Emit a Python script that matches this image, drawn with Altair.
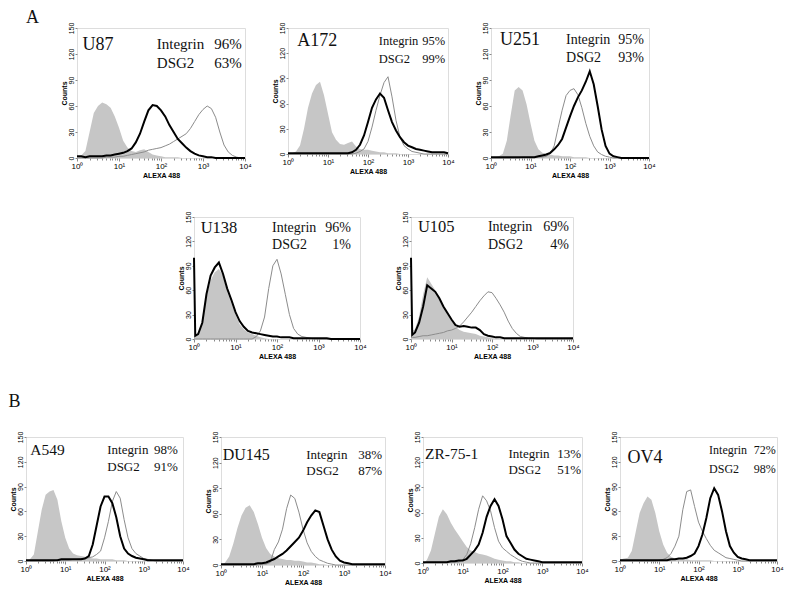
import math
import altair as alt
import pandas as pd

# fluorescence axis in decades (10^0 .. 10^4)
X = [0.0, 0.03, 0.1, 0.2, 0.3, 0.4, 0.5, 0.6, 0.7, 0.8, 0.9, 1.0,
     1.1, 1.2, 1.3, 1.4, 1.5, 1.6, 1.7, 1.8, 1.9, 2.0,
     2.1, 2.2, 2.3, 2.4, 2.5, 2.6, 2.7, 2.8, 2.9, 3.0,
     3.1, 3.2, 3.3, 3.4, 3.5, 3.6, 3.7, 3.8, 3.9, 4.0]

# ---- U87
U87_ISO = [0, 1, 3, 8, 30, 52, 60, 64, 62, 58, 48, 35,
           20, 12, 8, 7, 9, 10, 7, 4, 3, 2,
           1, 1, 1, 1, 0, 0, 0, 0, 0, 0,
           0, 0, 0, 0, 0, 0, 0, 0, 0, 0]
U87_INT = [0, 0, 0, 0, 0, 0, 0, 0, 1, 1, 1, 2,
           2, 3, 4, 5, 6, 7, 9, 10, 11, 12,
           14, 16, 19, 22, 25, 28, 34, 42, 50, 56,
           60, 57, 47, 30, 15, 7, 3, 1, 0, 0]
U87_DSG = [2, 2, 2, 1, 2, 2, 2, 2, 3, 3, 4, 5,
           6, 8, 11, 18, 28, 42, 55, 61, 60, 55,
           48, 38, 30, 22, 17, 12, 8, 5, 3, 2,
           1, 1, 0, 0, 0, 0, 0, 0, 0, 0]
# ---- A172
A172_ISO = [0, 0, 1, 3, 10, 30, 55, 72, 82, 86, 70, 48,
            26, 17, 12, 11, 13, 15, 9, 6, 5, 5,
            4, 3, 2, 2, 1, 1, 1, 0, 0, 0,
            0, 0, 0, 0, 0, 0, 0, 0, 0, 0]
A172_INT = [0, 0, 0, 0, 0, 0, 0, 0, 0, 0, 0, 0,
            0, 0, 0, 0, 0, 0, 1, 3, 6, 15,
            32, 52, 70, 85, 92, 68, 40, 20, 10, 6,
            3, 2, 1, 0, 0, 0, 0, 0, 0, 0]
A172_DSG = [1, 1, 1, 1, 1, 1, 1, 1, 1, 1, 1, 1,
            1, 1, 1, 1, 1, 2, 5, 11, 22, 38,
            55, 65, 72, 67, 52, 38, 28, 20, 14, 10,
            8, 6, 5, 4, 3, 2, 2, 2, 2, 1]
# ---- U251
U251_ISO = [0, 0, 1, 2, 5, 20, 50, 78, 82, 78, 62, 40,
            20, 10, 6, 5, 4, 3, 3, 2, 2, 2,
            1, 1, 1, 1, 0, 0, 0, 0, 0, 0,
            0, 0, 0, 0, 0, 0, 0, 0, 0, 0]
U251_INT = [0, 0, 0, 0, 0, 0, 0, 0, 0, 1, 1, 1,
            1, 1, 1, 2, 5, 14, 35, 55, 72, 78,
            80, 73, 58, 40, 25, 14, 7, 4, 2, 1,
            0, 0, 0, 0, 0, 0, 0, 0, 0, 0]
U251_DSG = [1, 1, 1, 1, 1, 1, 1, 1, 1, 1, 1, 1,
            1, 2, 3, 4, 6, 10, 15, 22, 35, 48,
            60, 70, 78, 88, 100, 85, 60, 33, 14, 5,
            2, 1, 0, 0, 0, 0, 0, 0, 0, 0]
# ---- U138
U138_ISO = [3, 3, 5, 22, 52, 72, 82, 86, 78, 58, 44, 30,
            18, 12, 8, 6, 4, 2, 1, 0, 0, 0,
            0, 0, 0, 0, 0, 0, 0, 0, 0, 0,
            0, 0, 0, 0, 0, 0, 0, 0, 0, 0]
U138_INT = [0, 0, 0, 0, 0, 0, 0, 0, 0, 0, 0, 0,
            0, 0, 0, 0, 3, 10, 27, 62, 90, 98,
            80, 55, 30, 13, 6, 3, 2, 1, 0, 0,
            0, 0, 0, 0, 0, 0, 0, 0, 0, 0]
U138_DSG = [100, 4, 6, 20, 55, 78, 88, 94, 80, 62, 48, 33,
            22, 15, 10, 8, 7, 6, 5, 4, 3, 3,
            2, 2, 2, 1, 1, 1, 1, 1, 1, 1,
            1, 1, 0, 0, 0, 0, 0, 0, 0, 0]
# ---- U105
U105_ISO = [30, 10, 12, 28, 55, 76, 68, 60, 50, 40, 30, 22,
            15, 11, 9, 8, 7, 6, 4, 3, 2, 1,
            1, 0, 0, 0, 0, 0, 0, 0, 0, 0,
            0, 0, 0, 0, 0, 0, 0, 0, 0, 0]
U105_INT = [2, 2, 2, 3, 4, 4, 5, 6, 7, 8, 10, 11,
            13, 16, 21, 27, 33, 40, 47, 53, 58, 57,
            50, 42, 33, 22, 13, 7, 3, 2, 1, 1,
            0, 0, 0, 0, 0, 0, 0, 0, 0, 0]
U105_DSG = [100, 5, 8, 20, 40, 66, 62, 58, 50, 40, 32, 24,
            17, 15, 16, 15, 14, 14, 11, 6, 4, 3,
            2, 2, 1, 1, 1, 1, 1, 1, 1, 1,
            1, 1, 1, 1, 1, 1, 1, 1, 1, 1]
# ---- A549
A549_ISO = [0, 0, 2, 8, 35, 62, 80, 84, 86, 74, 48, 28,
            15, 9, 7, 6, 5, 4, 3, 3, 2, 2,
            2, 2, 1, 1, 1, 0, 0, 0, 0, 0,
            0, 0, 0, 0, 0, 0, 0, 0, 0, 0]
A549_INT = [0, 0, 0, 0, 0, 0, 0, 0, 0, 1, 1, 1,
            1, 2, 2, 3, 3, 4, 5, 8, 12, 28,
            48, 72, 84, 76, 50, 28, 15, 9, 6, 3,
            2, 1, 0, 0, 0, 0, 0, 0, 0, 0]
A549_DSG = [1, 1, 1, 1, 1, 1, 1, 1, 1, 1, 2, 2,
            2, 2, 2, 2, 3, 6, 20, 43, 66, 78,
            78, 70, 53, 30, 15, 9, 6, 4, 3, 2,
            1, 1, 1, 1, 1, 1, 1, 1, 1, 1]
# ---- DU145
DU145_ISO = [0, 0, 3, 10, 25, 43, 58, 67, 70, 62, 48, 32,
             20, 13, 10, 8, 7, 6, 6, 5, 5, 4,
             3, 3, 2, 1, 1, 0, 0, 0, 0, 0,
             0, 0, 0, 0, 0, 0, 0, 0, 0, 0]
DU145_INT = [0, 0, 0, 0, 0, 0, 0, 0, 0, 0, 0, 1,
             1, 3, 18, 27, 42, 66, 82, 78, 62, 42,
             26, 16, 10, 6, 4, 2, 1, 0, 0, 0,
             0, 0, 0, 0, 0, 0, 0, 0, 0, 0]
DU145_DSG = [1, 1, 1, 1, 1, 1, 1, 1, 1, 1, 2, 2,
             3, 5, 7, 10, 13, 17, 22, 27, 32, 40,
             50, 58, 64, 62, 46, 30, 18, 10, 5, 3,
             2, 1, 1, 1, 1, 1, 1, 1, 1, 1]
# ---- ZR-75-1
ZR_ISO = [0, 0, 4, 15, 35, 55, 64, 58, 48, 40, 33, 26,
          19, 15, 13, 11, 10, 9, 7, 5, 4, 3,
          2, 2, 1, 1, 0, 0, 0, 0, 0, 0,
          0, 0, 0, 0, 0, 0, 0, 0, 0, 0]
ZR_INT = [0, 0, 1, 1, 1, 1, 1, 1, 1, 1, 1, 4,
          10, 23, 42, 64, 80, 74, 62, 42, 26, 18,
          14, 10, 7, 4, 2, 1, 0, 0, 0, 0,
          0, 0, 0, 0, 0, 0, 0, 0, 0, 0]
ZR_DSG = [1, 1, 1, 1, 1, 1, 1, 1, 2, 2, 3, 3,
          5, 10, 15, 22, 36, 55, 68, 76, 68, 52,
          32, 24, 16, 11, 8, 5, 4, 3, 2, 1,
          1, 1, 1, 1, 1, 1, 1, 1, 1, 1]
# ---- OV4
OV4_ISO = [2, 2, 3, 4, 12, 35, 58, 70, 78, 74, 58, 36,
           20, 10, 5, 3, 2, 2, 2, 1, 1, 1,
           1, 1, 1, 0, 0, 0, 0, 0, 0, 0,
           0, 0, 0, 0, 0, 0, 0, 0, 0, 0]
OV4_INT = [0, 0, 0, 0, 0, 0, 0, 0, 0, 0, 0, 1,
           2, 4, 9, 18, 30, 62, 84, 86, 66, 47,
           36, 27, 19, 13, 10, 7, 4, 3, 2, 1,
           0, 0, 0, 0, 0, 0, 0, 0, 0, 0]
OV4_DSG = [1, 1, 1, 1, 1, 1, 1, 1, 1, 1, 1, 1,
           1, 1, 2, 2, 3, 3, 4, 6, 9, 18,
           32, 52, 76, 88, 80, 60, 36, 18, 10, 5,
           3, 2, 1, 1, 1, 1, 1, 1, 1, 1]

CELLS = ["U87", "A172", "U251", "U138", "U105", "A549", "DU145", "ZR-75-1", "OV4"]
INTEGRIN_PCT = ["96%", "95%", "95%", "96%", "69%", "98%", "38%", "13%", "72%"]
DSG2_PCT = ["63%", "99%", "93%", "1%", "4%", "91%", "87%", "51%", "98%"]
X_TICKS = [0, 1, 2, 3, 4]
Y_TICKS = [0, 30, 60, 90, 120, 150]

SERIF = "Liberation Serif"
SANS = "Liberation Sans"
MINOR = [d + math.log10(k) for d in range(4) for k in range(2, 10)]
SUP = "['\u2070','\u00b9','\u00b2','\u00b3','\u2074'][datum.value]"


def panel(i, iso, integ, dsg, w, h, fs_name, fs_txt, name_x, name_y, lab_x, val_x, y1, y2):
    df = pd.DataFrame({"x": X, "iso": iso, "integrin": integ, "dsg2": dsg})
    xs = alt.Scale(domain=[0, 4], nice=False, zero=False)
    ys = alt.Scale(domain=[0, 150], nice=False)
    xaxis = alt.Axis(values=X_TICKS, labelExpr="'10' + " + SUP, title="ALEXA 488",
                     titleFontSize=7, labelFontSize=8, tickSize=3, labelPadding=1,
                     titlePadding=1, grid=False, domain=False, orient="bottom",
                     labelFlush=False, labelOverlap=False)
    minor_axis = alt.Axis(values=MINOR, labels=False, title="", tickSize=2, grid=False,
                          domain=False, orient="bottom", labelOverlap=False)
    yaxis = alt.Axis(values=Y_TICKS, title="Counts", titleFontSize=7, labelFontSize=7,
                     labelAngle=270, labelAlign="center", labelBaseline="bottom",
                     labelOverlap=False, tickSize=2, labelPadding=1, titlePadding=0,
                     grid=False, domain=False, orient="left")
    base = alt.Chart(df)
    fill = base.mark_area(color="#c6c6c6", interpolate="linear").encode(
        x=alt.X("x:Q", scale=xs, axis=xaxis),
        y=alt.Y("iso:Q", scale=ys, axis=yaxis))
    integ_line = base.mark_line(color="#8c8c8c", strokeWidth=1).encode(
        x=alt.X("x:Q", scale=xs, axis=minor_axis),
        y=alt.Y("integrin:Q", scale=ys, axis=None))
    dsg_line = base.mark_line(color="#000000", strokeWidth=2).encode(
        x=alt.X("x:Q", scale=xs, axis=None),
        y=alt.Y("dsg2:Q", scale=ys, axis=None))

    name_df = pd.DataFrame({"x": [name_x], "y": [name_y], "t": [CELLS[i]]})
    lab_df = pd.DataFrame({"x": [lab_x, lab_x], "y": [y1, y2], "t": ["Integrin", "DSG2"]})
    val_df = pd.DataFrame({"x": [val_x, val_x], "y": [y1, y2],
                           "t": [INTEGRIN_PCT[i], DSG2_PCT[i]]})

    def txt(d, fs, align):
        return alt.Chart(d).mark_text(font=SERIF, fontSize=fs, align=align,
                                      baseline="middle", color="#111").encode(
            x=alt.X("x:Q", scale=xs, axis=None),
            y=alt.Y("y:Q", scale=ys, axis=None), text="t:N")

    return alt.layer(fill, integ_line, dsg_line, txt(name_df, fs_name, "left"),
                     txt(lab_df, fs_txt, "left"), txt(val_df, fs_txt, "right")
                     ).resolve_axis(x="independent", y="independent").properties(
        width=w, height=h)


def spacer(w, h):
    d = pd.DataFrame({"v": [0]})
    return alt.Chart(d).mark_point(opacity=0).encode(
        x=alt.X("v:Q", axis=None), y=alt.Y("v:Q", axis=None)).properties(
        width=w, height=h, view=alt.ViewBackground(strokeOpacity=0))


p_u87 = panel(0, U87_ISO, U87_INT, U87_DSG, 168, 130, 18, 15, 0.13, 130, 1.9, 3.92, 131, 110)
p_a172 = panel(1, A172_ISO, A172_INT, A172_DSG, 160, 126, 18, 12.5, 0.23, 135, 2.27, 3.93, 135, 113)
p_u251 = panel(2, U251_ISO, U251_INT, U251_DSG, 158, 130, 18, 14, 0.23, 136, 1.9, 3.87, 136, 115)
p_u138 = panel(3, U138_ISO, U138_INT, U138_DSG, 166, 122, 16.5, 14, 0.16, 136, 1.88, 3.78, 136, 115)
p_u105 = panel(4, U105_ISO, U105_INT, U105_DSG, 162, 122, 16.5, 14, 0.17, 138, 1.9, 3.9, 138, 116)
p_a549 = panel(5, A549_ISO, A549_INT, A549_DSG, 157, 124, 15.5, 13, 0.11, 134, 2.07, 3.87, 134, 114)
p_du145 = panel(6, DU145_ISO, DU145_INT, DU145_DSG, 164, 128, 16, 13, 0.04, 129, 2.08, 3.93, 129, 110)
p_zr = panel(7, ZR_ISO, ZR_INT, ZR_DSG, 159, 126, 15.5, 13, 0.05, 130, 2.15, 3.98, 130, 111)
p_ov4 = panel(8, OV4_ISO, OV4_INT, OV4_DSG, 157, 124, 18, 12, 0.19, 124, 2.27, 3.97, 134, 111)

row1 = alt.hconcat(spacer(15, 10), p_u87, p_a172, p_u251, spacing=18).properties(
    title=alt.TitleParams("A", anchor="start", font=SERIF, fontSize=18,
                          fontWeight="normal", color="#111", offset=-5))
row2 = alt.hconcat(spacer(124, 144), p_u138, p_u105, spacing=26)
row3 = alt.hconcat(p_a549, p_du145, p_zr, p_ov4, spacing=13).properties(
    title=alt.TitleParams("B", anchor="start", font=SERIF, fontSize=18,
                          fontWeight="normal", color="#111", offset=20))

chart = alt.vconcat(row1, row2, row3, spacing=31).properties(padding=0).configure_view(
    stroke="#333333", strokeWidth=1).configure_axis(
    labelFont=SANS, titleFont=SANS, labelColor="#333333", titleColor="#333333",
    tickColor="#333333", titleFontWeight="normal", labelOverlap=False).configure(
    background="white")

chart.save("out.html", embed_options={"renderer": "svg", "actions": False})
